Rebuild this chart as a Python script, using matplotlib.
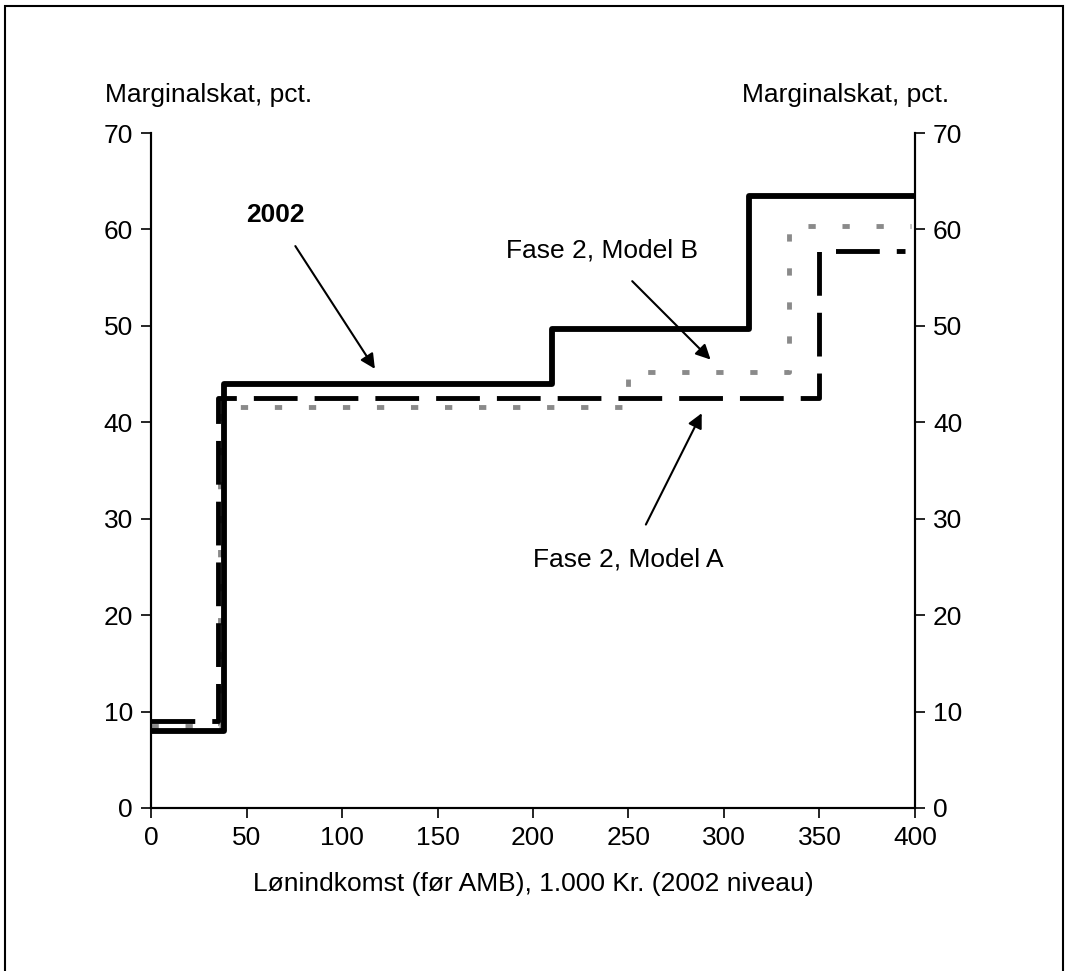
import matplotlib.pyplot as plt
from matplotlib.patches import Rectangle

plt.rcParams['font.family'] = ['Liberation Sans Narrow', 'Liberation Sans', 'DejaVu Sans']

# step breakpoints (1.000 kr) and marginal tax (pct)
x_2002 = [0, 38, 38, 210, 210, 313, 313, 400]
y_2002 = [8, 8, 44, 44, 49.7, 49.7, 63.5, 63.5]

x_model_a = [0, 35, 35, 350, 350, 395]
y_model_a = [9, 9, 42.5, 42.5, 57.8, 57.8]

x_model_b = [0, 36, 36, 250, 250, 334, 334, 398]
y_model_b = [8.5, 8.5, 41.6, 41.6, 45.2, 45.2, 60.4, 60.4]

x_ticks = [0, 50, 100, 150, 200, 250, 300, 350, 400]
y_ticks = [0, 10, 20, 30, 40, 50, 60, 70]

fig = plt.figure(figsize=(10.69, 9.71), dpi=100)
fig.patches.append(Rectangle((0.005, -0.01), 0.989, 1.004, transform=fig.transFigure,
                             fill=False, edgecolor='black', linewidth=1.5))

ax = fig.add_axes([0.1413, 0.1679, 0.7146, 0.6951])
ax.plot(x_model_b, y_model_b, color='#8a8a8a', linestyle=(0, (1.5, 5.5)), linewidth=3.5)
ax.plot(x_model_a, y_model_a, color='black', linestyle=(0, (9, 3.5)), linewidth=3.5)
ax.plot(x_2002, y_2002, color='black', linewidth=4.2)

ax.set_xlim(0, 400)
ax.set_ylim(0, 70)
ax.set_xticks(x_ticks)
ax.set_yticks(y_ticks)
ax.spines['top'].set_visible(False)
ax.tick_params(labelsize=19, length=7, width=1.2, direction='out', pad=6)
for s in ax.spines.values():
    s.set_linewidth(1.5)

ax2 = ax.twinx()
ax2.set_ylim(0, 70)
ax2.set_yticks(y_ticks)
ax2.spines['top'].set_visible(False)
ax2.tick_params(labelsize=19, length=7, width=1.2, direction='out', pad=6)
for s in ax2.spines.values():
    s.set_linewidth(1.5)

fig.text(0.098, 0.902, 'Marginalskat, pct.', fontsize=19, va='center', ha='left')
fig.text(0.888, 0.902, 'Marginalskat, pct.', fontsize=19, va='center', ha='right')
ax.set_xlabel('Lønindkomst (før AMB), 1.000 Kr. (2002 niveau)', fontsize=19, labelpad=16)

arrow = dict(arrowstyle='-|>', color='black', lw=1.5, mutation_scale=22)
ax.annotate('2002', xy=(118, 45.3), xytext=(65, 61.5), fontsize=19, ha='center', va='center',
            fontweight='bold', arrowprops=dict(arrow, shrinkA=14))
ax.annotate('Fase 2, Model B', xy=(294, 46.3), xytext=(236, 57.8), fontsize=19,
            ha='center', va='center', arrowprops=dict(arrow, shrinkA=16))
ax.annotate('Fase 2, Model A', xy=(289, 41.2), xytext=(250, 25.8), fontsize=19,
            ha='center', va='center', arrowprops=dict(arrow, shrinkA=16))

fig.savefig('out.png', dpi=100)
